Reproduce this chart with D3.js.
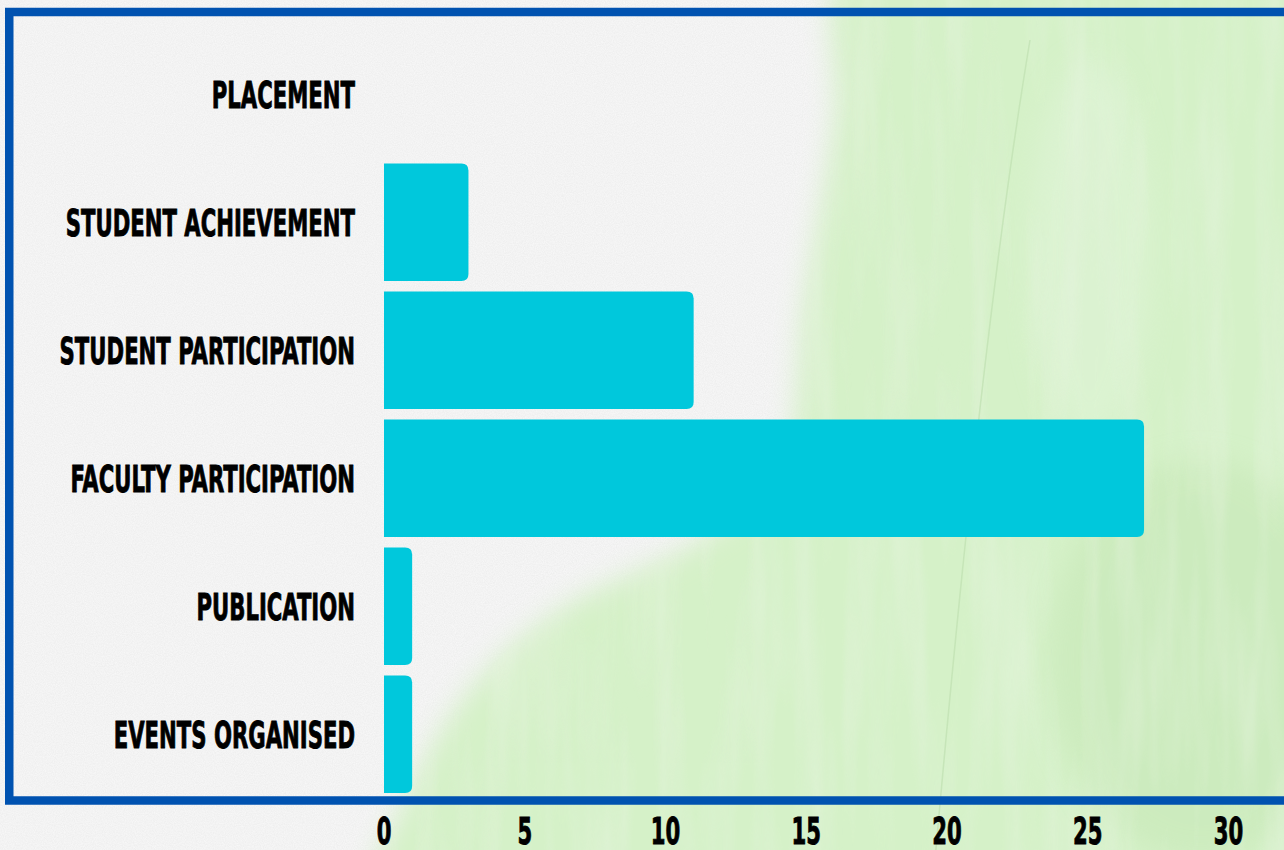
<!DOCTYPE html>
<html>
<head>
<meta charset="utf-8">
<script src="https://cdn.jsdelivr.net/npm/d3@7"></script>
<style>
  body { margin: 0; overflow: hidden; background: #f0f0f0; }
  svg { display: block; }
  .lbl { font-family: "DejaVu Sans Condensed", "DejaVu Sans", sans-serif; font-weight: bold; fill: #000; stroke: #000; stroke-width: 0.9px; }
</style>
</head>
<body>
<script>
// chart data
var categories = ["PLACEMENT", "STUDENT ACHIEVEMENT", "STUDENT PARTICIPATION",
                  "FACULTY PARTICIPATION", "PUBLICATION", "EVENTS ORGANISED"];
var values = [0, 3, 11, 27, 1, 1];
var xTicks = [0, 5, 10, 15, 20, 25, 30];

var width = 1284, height = 850;
var barColor = "#00c8dc";
var frameColor = "#0052b0";
var squeeze = 0.62; // horizontal squeeze for the condensed look

var svg = d3.select("body").append("svg")
    .attr("width", width)
    .attr("height", height);

var defs = svg.append("defs");

// paper grain
var grain = defs.append("filter").attr("id", "grain")
    .attr("x", 0).attr("y", 0).attr("width", 1).attr("height", 1);
grain.append("feTurbulence").attr("type", "fractalNoise")
    .attr("baseFrequency", 0.9).attr("numOctaves", 2).attr("seed", 3);
grain.append("feColorMatrix").attr("type", "matrix")
    .attr("values", "0 0 0 0 1  0 0 0 0 1  0 0 0 0 1  0 0 0 -1.6 1.25");
grain.append("feComposite").attr("in2", "SourceGraphic").attr("operator", "in");

// streaky plume texture
var plume = defs.append("filter").attr("id", "plume")
    .attr("x", 0).attr("y", 0).attr("width", 1).attr("height", 1);
plume.append("feTurbulence").attr("type", "fractalNoise")
    .attr("baseFrequency", "0.035 0.004").attr("numOctaves", 3).attr("seed", 7);
plume.append("feColorMatrix").attr("type", "matrix")
    .attr("values", "0 0 0 0 0.78  0 0 0 0 0.9  0 0 0 0 0.72  0 0 1.4 0 -0.55");
plume.append("feComposite").attr("in2", "SourceGraphic").attr("operator", "in");

var soft = defs.append("filter").attr("id", "soft")
    .attr("x", -0.2).attr("y", -0.2).attr("width", 1.4).attr("height", 1.4);
soft.append("feGaussianBlur").attr("stdDeviation", 14);

var bg = svg.append("g");
bg.append("rect").attr("width", width).attr("height", height).attr("fill", "#efefef");
bg.append("rect").attr("width", width).attr("height", height)
    .attr("fill", "#e4e4e4").attr("filter", "url(#grain)").attr("opacity", 0.5);

// feather area (background decoration)
var feather = [[850, -40], [1330, -40], [1330, 900], [380, 900], [410, 790], [470, 690],
               [560, 610], [700, 540], [780, 470], [805, 300], [835, 120]];
var featherPath = d3.line().curve(d3.curveCatmullRomClosed)(feather);
bg.append("path")
    .attr("d", featherPath)
    .attr("fill", "#d5f1c8")
    .attr("filter", "url(#soft)");
bg.append("ellipse").attr("cx", 1200).attr("cy", 660).attr("rx", 150).attr("ry", 200)
    .attr("fill", "#c6e7b6").attr("opacity", 0.55).attr("filter", "url(#soft)");
bg.append("ellipse").attr("cx", 1090).attr("cy", 250).attr("rx", 60).attr("ry", 190)
    .attr("fill", "#e0f4d8").attr("opacity", 0.6).attr("filter", "url(#soft)");
bg.append("clipPath").attr("id", "fclip").append("path").attr("d", featherPath);
bg.append("rect").attr("width", width).attr("height", height)
    .attr("fill", "#fff").attr("filter", "url(#plume)")
    .attr("clip-path", "url(#fclip)").attr("opacity", 0.8);
bg.append("path").attr("d", "M1030,40 C995,250 965,520 935,860")
    .attr("fill", "none").attr("stroke", "#bfe0b0").attr("stroke-width", 1.5).attr("opacity", 0.7);

// scales
var x = d3.scaleLinear().domain([0, 30]).range([384, 1228.5]);
var y = d3.scaleBand().domain(categories).range([30.25, 798.25])
    .paddingInner(0.082).paddingOuter(0.041);

// bar with rounded right corners only
function barPath(x0, y0, w, h, r) {
    r = Math.min(r, w, h / 2);
    return "M" + x0 + "," + y0 +
        "H" + (x0 + w - r) +
        "Q" + (x0 + w) + "," + y0 + " " + (x0 + w) + "," + (y0 + r) +
        "V" + (y0 + h - r) +
        "Q" + (x0 + w) + "," + (y0 + h) + " " + (x0 + w - r) + "," + (y0 + h) +
        "H" + x0 + "Z";
}

var data = categories.map(function(c, i) { return { name: c, value: values[i] }; });

svg.append("g").selectAll("path")
    .data(data.filter(function(d) { return d.value > 0; }))
    .enter().append("path")
    .attr("d", function(d) {
        return barPath(x(0), y(d.name), x(d.value) - x(0), y.bandwidth(), 7);
    })
    .attr("fill", barColor);

// category labels
svg.append("g").selectAll("text")
    .data(data)
    .enter().append("text")
    .attr("class", "lbl")
    .attr("transform", function(d) {
        return "translate(355," + (y(d.name) + y.bandwidth() / 2 + 14) + ") scale(" + squeeze + ",1)";
    })
    .attr("text-anchor", "end")
    .style("font-size", "38px")
    .text(function(d) { return d.name; });

// frame
svg.append("rect")
    .attr("x", 9.25).attr("y", 12).attr("width", 1320).attr("height", 788.5)
    .attr("fill", "none").attr("stroke", frameColor).attr("stroke-width", 8.5);

// x tick labels
svg.append("g").selectAll("text")
    .data(xTicks)
    .enter().append("text")
    .attr("class", "lbl")
    .attr("transform", function(d) { return "translate(" + x(d) + ",844) scale(" + squeeze + ",1)"; })
    .attr("text-anchor", "middle")
    .style("font-size", "38px")
    .text(function(d) { return d; });
</script>
</body>
</html>
